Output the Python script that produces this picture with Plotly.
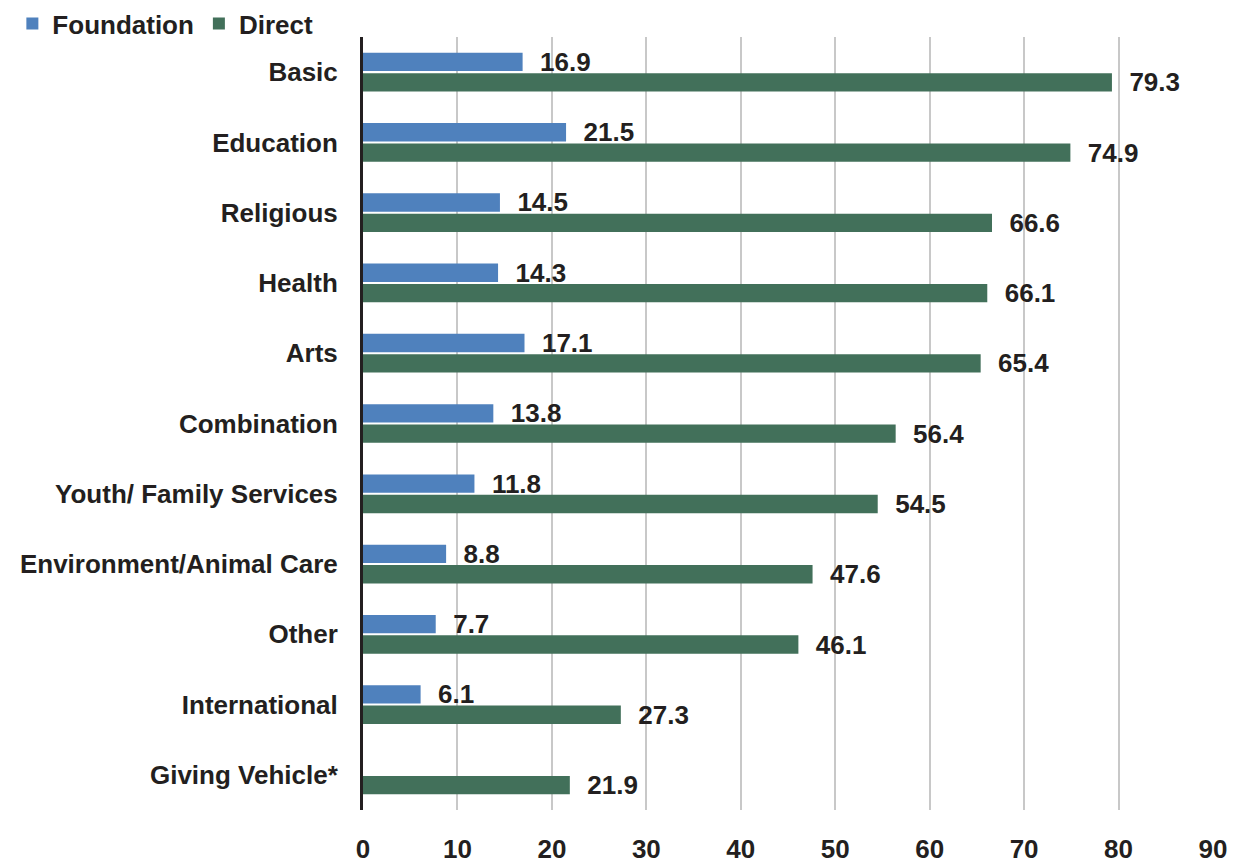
import plotly.graph_objects as go

categories = ["Basic", "Education", "Religious", "Health", "Arts", "Combination",
              "Youth/ Family Services", "Environment/Animal Care", "Other",
              "International", "Giving Vehicle*"]
foundation = [16.9, 21.5, 14.5, 14.3, 17.1, 13.8, 11.8, 8.8, 7.7, 6.1, None]
direct = [79.3, 74.9, 66.6, 66.1, 65.4, 56.4, 54.5, 47.6, 46.1, 27.3, 21.9]
x_ticks = [0, 10, 20, 30, 40, 50, 60, 70, 80, 90]

FONT = "Liberation Sans, Arial, sans-serif"
TXT = "#231f20"
FS = 26

def lab(vals):
    return ["  " + format(v, ".1f") if v is not None else "" for v in vals]

fig = go.Figure()
fig.add_trace(go.Bar(
    y=categories, x=foundation, orientation="h", name="Foundation",
    marker=dict(color="#4f81bd", line=dict(width=0)),
    text=lab(foundation), textposition="outside", cliponaxis=False,
    constraintext="none",
    textfont=dict(family=FONT, size=FS, color=TXT, weight="bold"),
))
fig.add_trace(go.Bar(
    y=categories, x=direct, orientation="h", name="Direct",
    marker=dict(color="#42705a", line=dict(width=0)),
    text=lab(direct), textposition="outside", cliponaxis=False,
    constraintext="none",
    textfont=dict(family=FONT, size=FS, color=TXT, weight="bold"),
))

fig.update_layout(
    width=1237, height=865,
    margin=dict(l=363, r=24, t=37, b=55, autoexpand=False),
    paper_bgcolor="white", plot_bgcolor="white",
    barmode="group", bargap=0.42, bargroupgap=0.1,
    font=dict(family=FONT, size=FS, color=TXT, weight="bold"),
    showlegend=True,
    legend=dict(orientation="h", xref="container", yref="container",
                x=0.010, y=1.0, xanchor="left", yanchor="top",
                font=dict(family=FONT, size=FS, color=TXT, weight="bold"),
                traceorder="normal", itemwidth=30, bgcolor="rgba(0,0,0,0)"),
)
fig.update_xaxes(
    range=[0, 90], tickvals=x_ticks, ticktext=[str(t) for t in x_ticks],
    showgrid=True, gridcolor="#c8c8c8", gridwidth=2,
    zeroline=False, showline=False, ticks="", ticklabelstandoff=21,
    tickfont=dict(family=FONT, size=FS, color=TXT, weight="bold"),
)
fig.update_yaxes(
    autorange="reversed", showline=True, linecolor="#231f20", linewidth=3,
    ticks="", ticklabelstandoff=17, showgrid=False,
    tickfont=dict(family=FONT, size=FS, color=TXT, weight="bold"),
)

fig.write_html("out.html", config={"displayModeBar": False},
               post_script="document.body.style.margin='0';")
